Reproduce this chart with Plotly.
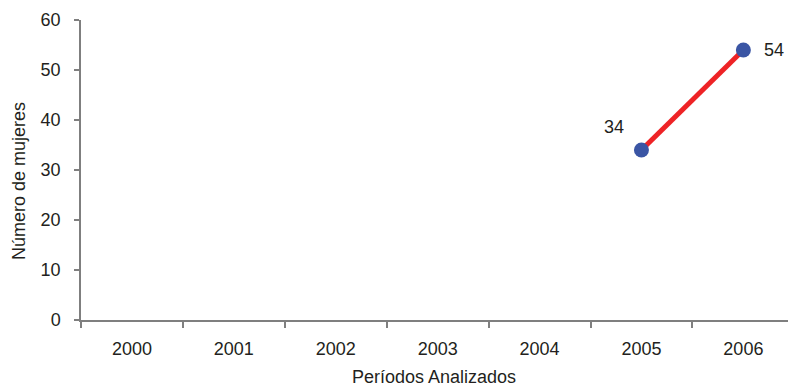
import plotly.graph_objects as go

years = ["2000", "2001", "2002", "2003", "2004", "2005", "2006"]
mujeres = [None, None, None, None, None, 34, 54]
labels = ["", "", "", "", "", "34", "54"]
label_dx = [0, 0, 0, 0, 0, -27, 31]
label_dy = [0, 0, 0, 0, 0, 23, 0]

FONT = "Liberation Sans, Arial, sans-serif"
TXT = "#231F20"

fig = go.Figure()
fig.add_trace(go.Scatter(
    x=years, y=mujeres, mode="lines+markers",
    line=dict(color="#EE2326", width=5),
    marker=dict(color="#3A55A4", size=15),
    cliponaxis=False, showlegend=False,
))

for i, (y, t, dx, dy) in enumerate(zip(mujeres, labels, label_dx, label_dy)):
    if t:
        fig.add_annotation(x=i, y=y, text=t, showarrow=False, xshift=dx, yshift=dy,
                           font=dict(family=FONT, size=18, color=TXT))

fig.add_annotation(text="Períodos Analizados", xref="paper", yref="paper", x=0.4993, y=-0.19,
                   xanchor="center", yanchor="middle", showarrow=False,
                   font=dict(family=FONT, size=18, color=TXT))
fig.add_annotation(text="Número de mujeres", xref="paper", yref="paper", x=-0.0877, y=0.463,
                   xanchor="center", yanchor="middle", showarrow=False, textangle=-90,
                   font=dict(family=FONT, size=18, color=TXT))

axis_font = dict(family=FONT, size=18, color=TXT)
fig.update_layout(
    width=788, height=385,
    margin=dict(l=81, r=0, t=20, b=65, autoexpand=False),
    paper_bgcolor="white", plot_bgcolor="white",
    font=axis_font,
    xaxis=dict(
        type="category", range=[-0.5, 6.438], tickson="boundaries",
        showline=True, linecolor="#7F7F7F", linewidth=1.5,
        ticks="outside", ticklen=6, tickcolor="#7F7F7F", tickwidth=1.5,
        showgrid=False, zeroline=False, tickfont=axis_font,
        ticklabelstandoff=12, automargin=False,
    ),
    yaxis=dict(
        range=[0, 60], tickvals=[0, 10, 20, 30, 40, 50, 60],
        showline=True, linecolor="#7F7F7F", linewidth=1.5,
        ticks="outside", ticklen=5, tickcolor="#7F7F7F", tickwidth=1.5,
        showgrid=False, zeroline=False, tickfont=axis_font,
        ticklabelstandoff=10, automargin=False,
    ),
)
fig.write_html("out.html", config={"displayModeBar": False},
               post_script="document.body.style.margin='0';document.body.style.overflow='hidden';")
